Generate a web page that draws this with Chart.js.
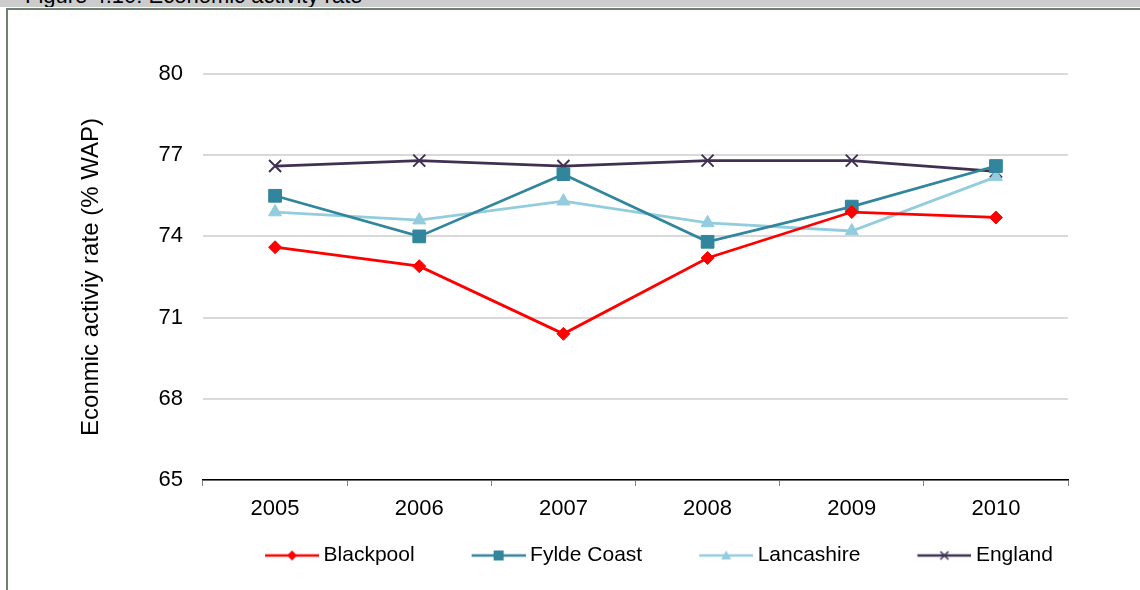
<!DOCTYPE html>
<html>
<head>
<meta charset="utf-8">
<script src="https://cdn.jsdelivr.net/npm/chart.js@4/dist/chart.umd.min.js"></script>
<style>
  html, body { margin: 0; padding: 0; background: #fff; }
  #wrap { position: relative; width: 1140px; height: 590px; overflow: hidden; }
  #topbar { position: absolute; left: 0; top: 0; width: 1140px; height: 7px; background: #cccccc; overflow: hidden; }
  #topbar span { position: absolute; left: 25px; top: -17px; font: 22px "Liberation Sans", Arial, sans-serif; color: #000; white-space: nowrap; }
  #hline { position: absolute; left: 6px; top: 8px; width: 1134px; height: 2px; background: #6f8272; }
  #vline { position: absolute; left: 6px; top: 8px; width: 2px; height: 582px; background: #6f8272; }
  canvas { position: absolute; left: 0; top: 0; }
</style>
</head>
<body>
<div id="wrap">
  <canvas id="chart" width="1140" height="590"></canvas>
  <div id="topbar"><span>Figure 4.10: Economic activity rate</span></div>
  <div id="hline"></div>
  <div id="vline"></div>
</div>
<script>
let years = ["2005", "2006", "2007", "2008", "2009", "2010"];
let blackpool = [73.6, 72.9, 70.4, 73.2, 74.9, 74.7];
let fyldeCoast = [75.5, 74.0, 76.3, 73.8, 75.1, 76.6];
let lancashire = [74.9, 74.6, 75.3, 74.5, 74.2, 76.2];
let england = [76.6, 76.8, 76.6, 76.8, 76.8, 76.4];
let yTicks = [65, 68, 71, 74, 77, 80];

let font = "'Liberation Sans', Arial, sans-serif";

// legend pictures: blank on the left, then line + marker (54px) on the right
function legendIcon(color, marker) {
  let c = document.createElement("canvas");
  c.width = 107;
  c.height = 16;
  let g = c.getContext("2d");
  let x0 = 53;
  let mx = x0 + 27;
  g.strokeStyle = color;
  g.fillStyle = color;
  g.lineWidth = 2.5;
  g.beginPath();
  g.moveTo(x0, 8);
  g.lineTo(107, 8);
  g.stroke();
  g.beginPath();
  if (marker == "diamond") {
    g.moveTo(mx, 3); g.lineTo(mx + 5, 8); g.lineTo(mx, 13); g.lineTo(mx - 5, 8);
    g.closePath(); g.fill();
  } else if (marker == "square") {
    g.fillRect(mx - 5, 3, 10, 10);
  } else if (marker == "triangle") {
    g.moveTo(mx, 3); g.lineTo(mx + 5, 12); g.lineTo(mx - 5, 12);
    g.closePath(); g.fill();
  } else {
    g.lineWidth = 1.6;
    g.moveTo(mx - 4, 4); g.lineTo(mx + 4, 12);
    g.moveTo(mx + 4, 4); g.lineTo(mx - 4, 12);
    g.stroke();
  }
  return c;
}

let icons = [
  legendIcon("#ff0000", "diamond"),
  legendIcon("#31859c", "square"),
  legendIcon("#93cddd", "triangle"),
  legendIcon("#403152", "cross"),
];

let ctx = document.getElementById("chart").getContext("2d");
let lineChart = new Chart(ctx, {
  type: "line",
  data: {
    labels: years,
    datasets: [
      {
        label: "Blackpool",
        data: blackpool,
        borderColor: "#ff0000",
        backgroundColor: "#ff0000",
        borderWidth: 2.75,
        pointStyle: "rectRot",
        pointRadius: 6.5,
        pointBorderWidth: 1,
      },
      {
        label: "Fylde Coast",
        data: fyldeCoast,
        borderColor: "#31859c",
        backgroundColor: "#31859c",
        borderWidth: 2.75,
        pointStyle: "rect",
        pointRadius: 9,
        pointBorderWidth: 1,
      },
      {
        label: "Lancashire",
        data: lancashire,
        borderColor: "#93cddd",
        backgroundColor: "#93cddd",
        borderWidth: 2.75,
        pointStyle: "triangle",
        pointRadius: 7.5,
        pointBorderWidth: 1,
      },
      {
        label: "England",
        data: england,
        borderColor: "#403152",
        backgroundColor: "#403152",
        borderWidth: 2.75,
        pointStyle: "crossRot",
        pointRadius: 8.5,
        pointBorderWidth: 2,
      },
    ],
  },
  options: {
    responsive: false,
    animation: false,
    layout: {
      padding: { left: 0, right: 72, top: 74, bottom: 14 },
    },
    scales: {
      x: {
        offset: true,
        grid: {
          offset: true,
          drawOnChartArea: false,
          drawTicks: true,
          tickLength: 6,
          color: "#808080",
        },
        border: { display: true, color: "#000000", width: 1.5 },
        ticks: {
          color: "#000000",
          padding: 10,
          font: { family: font, size: 22 },
        },
        afterFit: (s) => {
          s.height = 55;
        },
      },
      y: {
        min: 65,
        max: 80,
        afterBuildTicks: (s) => {
          s.ticks = yTicks.map((v) => ({ value: v }));
        },
        grid: {
          color: "#d9d9d9",
          lineWidth: 2,
          drawTicks: false,
        },
        border: { display: false },
        ticks: {
          color: "#000000",
          padding: 20,
          font: { family: font, size: 22 },
        },
        title: {
          display: true,
          text: "Econmic activiy rate (% WAP)",
          color: "#000000",
          align: "center",
          padding: { top: 77, bottom: 0 },
          font: { family: font, size: 24 },
        },
        afterFit: (s) => {
          s.width = 203;
        },
      },
    },
    plugins: {
      legend: {
        display: true,
        position: "bottom",
        fullSize: false,
        labels: {
          usePointStyle: true,
          pointStyleWidth: 95,
          padding: 10,
          color: "#000000",
          font: { family: font, size: 21 },
          generateLabels: (chart) =>
            chart.data.datasets.map((d, i) => ({
              text: d.label,
              pointStyle: icons[i],
              fillStyle: d.borderColor,
              strokeStyle: d.borderColor,
              lineWidth: 0,
              fontColor: "#000000",
              hidden: false,
              datasetIndex: i,
            })),
        },
      },
      tooltip: { enabled: false },
    },
  },
});
</script>
</body>
</html>
